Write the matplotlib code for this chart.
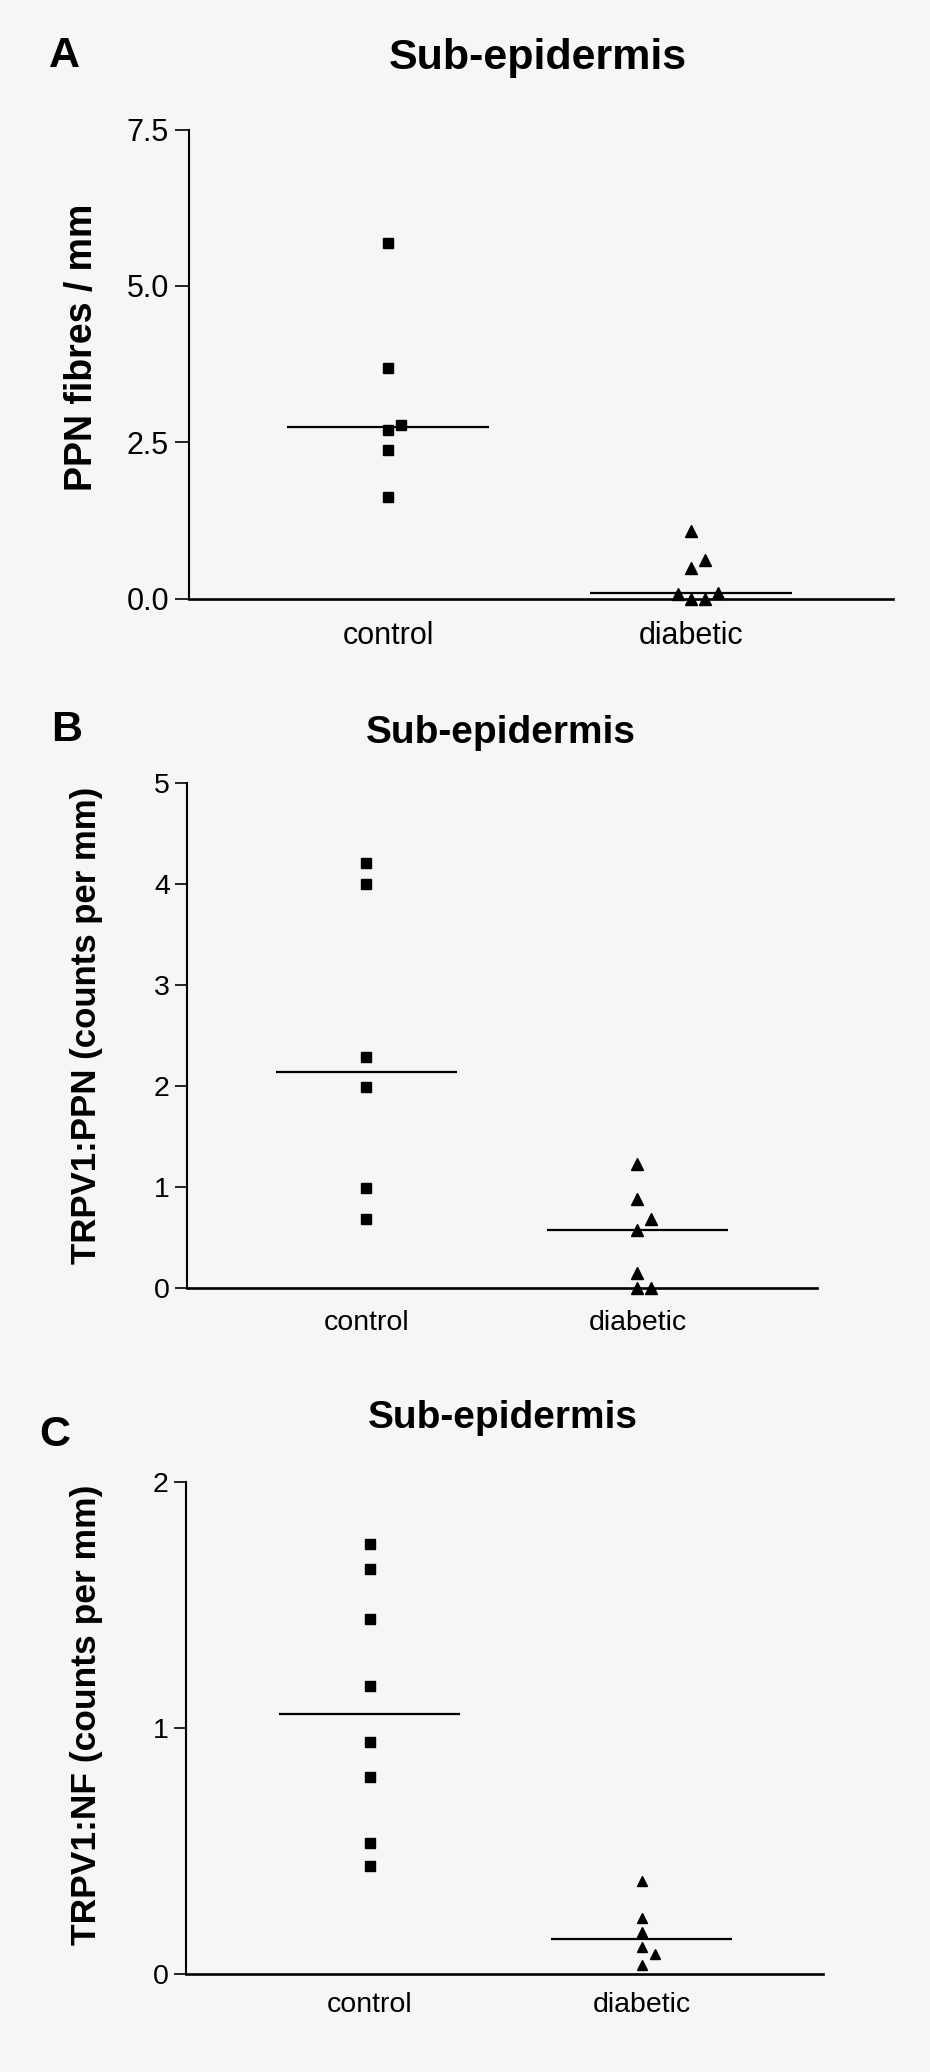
import numpy as np
import matplotlib.pyplot as plt

plt.rcParams['font.family'] = ['Liberation Sans', 'DejaVu Sans']

groups = ["control", "diabetic"]

# A: PPN fibres / mm
ppn_control = [5.68, 3.68, 2.78, 2.69, 2.38, 1.63]
ppn_diabetic = [1.08, 0.62, 0.48, 0.085, 0.065, 0.0, 0.0]
a_ticks = [0, 2.5, 5, 7.5]
a_ticklabels = ["0.0", "2.5", "5.0", "7.5"]

# B: TRPV1:PPN (counts per mm)
trpv_ppn_control = [4.21, 4.00, 2.29, 1.99, 0.99, 0.69]
trpv_ppn_diabetic = [1.235, 0.88, 0.69, 0.58, 0.15, 0.0, 0.0]
b_ticks = [0, 1, 2, 3, 4, 5]

# C: TRPV1:NF (counts per mm)
trpv_nf_control = [1.745, 1.645, 1.44, 1.17, 0.94, 0.80, 0.53, 0.436]
trpv_nf_diabetic = [0.377, 0.228, 0.17, 0.108, 0.08, 0.036]
c_ticks = [0, 1, 2]

W, H = 930, 2072
fig = plt.figure(figsize=(W / 100, H / 100), dpi=100, facecolor="#f6f6f6")


def px_rect(left, top, right, bottom):
    return [left / W, 1 - bottom / H, (right - left) / W, (bottom - top) / H]


def dodge(ax, x0, values, gap_px=12.5, step_px=13.5):
    # push overlapping points sideways (Prism-style scatter)
    tr = ax.transData
    ypix = [tr.transform((x0, v))[1] for v in values]
    unit = tr.transform((1, 0))[0] - tr.transform((0, 0))[0]
    slots = [0] * len(values)
    placed = []
    for i in np.argsort(values, kind="stable"):
        for s in [0, 1, -1, 2, -2, 3, -3]:
            if all(not (ps == s and abs(py - ypix[i]) < gap_px) for ps, py in placed):
                break
        placed.append((s, ypix[i]))
        slots[i] = s
    return [x0 + s * step_px / unit for s in slots]


def panel(rect, xlim, ctrl, diab, ylim, ticks, ticklabels, fs, ms, tlen, xpad):
    ax = fig.add_axes(rect)
    ax.set_facecolor("none")
    ax.set_xlim(*xlim)
    ax.set_ylim(*ylim)
    for sp in ["top", "right"]:
        ax.spines[sp].set_visible(False)
    ax.spines["left"].set_linewidth(1.5)
    ax.spines["bottom"].set_linewidth(1.9)
    ax.set_yticks(ticks)
    ax.set_yticklabels(ticklabels)
    ax.tick_params(axis="y", direction="out", length=tlen, width=1.2,
                   labelsize=fs, pad=4)
    ax.set_xticks([1, 2])
    ax.set_xticklabels(groups)
    ax.tick_params(axis="x", length=0, labelsize=fs, pad=xpad)

    for x0, vals, mk, m in [(1, ctrl, "s", ms), (2, diab, "^", ms * 1.05)]:
        xs = dodge(ax, x0, vals)
        ax.plot(xs, vals, mk, color="black", markersize=m, ls="none",
                clip_on=False, zorder=3)
        med = np.median(vals)
        ax.hlines(med, x0 - 0.333, x0 + 0.333, color="black", lw=1.6, zorder=2)
    return ax


panel(px_rect(188.5, 129.5, 892.6, 598.5), (0.342, 2.665),
      ppn_control, ppn_diabetic, (0, 7.5), a_ticks, a_ticklabels,
      22, 7.8, 10, 16)
panel(px_rect(187, 782.8, 817, 1288.4), (0.339, 2.662),
      trpv_ppn_control, trpv_ppn_diabetic, (0, 5), b_ticks,
      [str(t) for t in b_ticks], 20.5, 7.6, 8.4, 15.5)
panel(px_rect(185.6, 1481.5, 823, 1973.6), (0.324, 2.666),
      trpv_nf_control, trpv_nf_diabetic, (0, 2), c_ticks,
      [str(t) for t in c_ticks], 20.5, 7.3, 8.4, 13)

# panel letters and titles
for letter, lx, ly, title, tx, ty, tfs in [
        ("A", 64, 67.3, "Sub-epidermis", 538, 69.4, 31),
        ("B", 67, 740.7, "Sub-epidermis", 500.6, 742.9, 28),
        ("C", 55, 1446.2, "Sub-epidermis", 502.5, 1428.5, 28)]:
    fig.text(lx / W, 1 - ly / H, letter, fontsize=31, fontweight="bold",
             ha="center", va="baseline")
    fig.text(tx / W, 1 - ty / H, title, fontsize=tfs, fontweight="bold",
             ha="center", va="baseline")

# y labels
for lab, bx, cy, lfs in [("PPN fibres / mm", 92, 347, 27),
                         ("TRPV1:PPN (counts per mm)", 96, 1025, 25),
                         ("TRPV1:NF (counts per mm)", 96, 1715, 25.5)]:
    fig.text(bx / W, 1 - cy / H, lab, fontsize=lfs, fontweight="bold",
             rotation=90, rotation_mode="anchor", ha="center", va="baseline")

fig.savefig("out.png", dpi=100, facecolor=fig.get_facecolor())
